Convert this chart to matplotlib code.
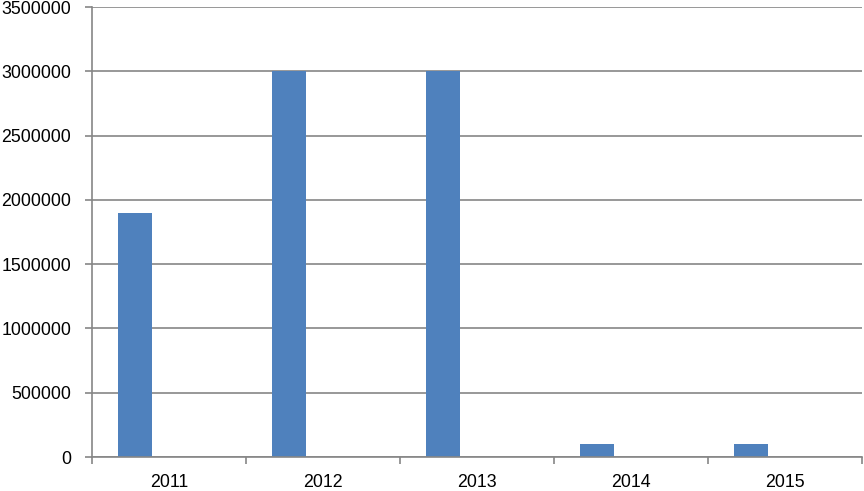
import matplotlib
matplotlib.use("Agg")
import matplotlib.pyplot as plt
import numpy as np

categories = ["2011", "2012", "2013", "2014", "2015"]
values = [1900000, 3000000, 3000000, 100000, 100000]
yticks = [0, 500000, 1000000, 1500000, 2000000, 2500000, 3000000, 3500000]

plt.rcParams['font.family'] = ['Liberation Sans', 'DejaVu Sans']

fig = plt.figure(figsize=(8.64, 4.91), dpi=100)
ax = fig.add_axes([92/864, 34/491, 770/864, 450/491])

grid_c = "#868686"
x = np.arange(len(categories))
ax.bar(x - 0.221, values, width=0.2208, color="#4F81BD", zorder=3)

ax.set_xlim(-0.5, len(categories) - 0.5)
ax.set_ylim(0, 3500000)
ax.set_yticks(yticks)
ax.set_yticklabels([str(v) for v in yticks])
ax.yaxis.grid(True, color=grid_c, linewidth=1.2, zorder=0)

ax.set_xticks(x)
ax.set_xticklabels(categories)
ax.set_xticks(np.arange(len(categories) + 1) - 0.5, minor=True)
ax.tick_params(axis='x', which='major', length=0, pad=12, labelsize=12.8)
ax.tick_params(axis='x', which='minor', length=5, color=grid_c, width=1.2)
ax.tick_params(axis='y', which='major', length=5, color=grid_c, width=1.2, pad=10, labelsize=12.8)

for s in ["top", "right"]:
    ax.spines[s].set_visible(False)
for s in ["left", "bottom"]:
    ax.spines[s].set_color(grid_c)
    ax.spines[s].set_linewidth(1.2)
ax.spines["bottom"].set_zorder(4)

fig.savefig("out.png", dpi=100)
